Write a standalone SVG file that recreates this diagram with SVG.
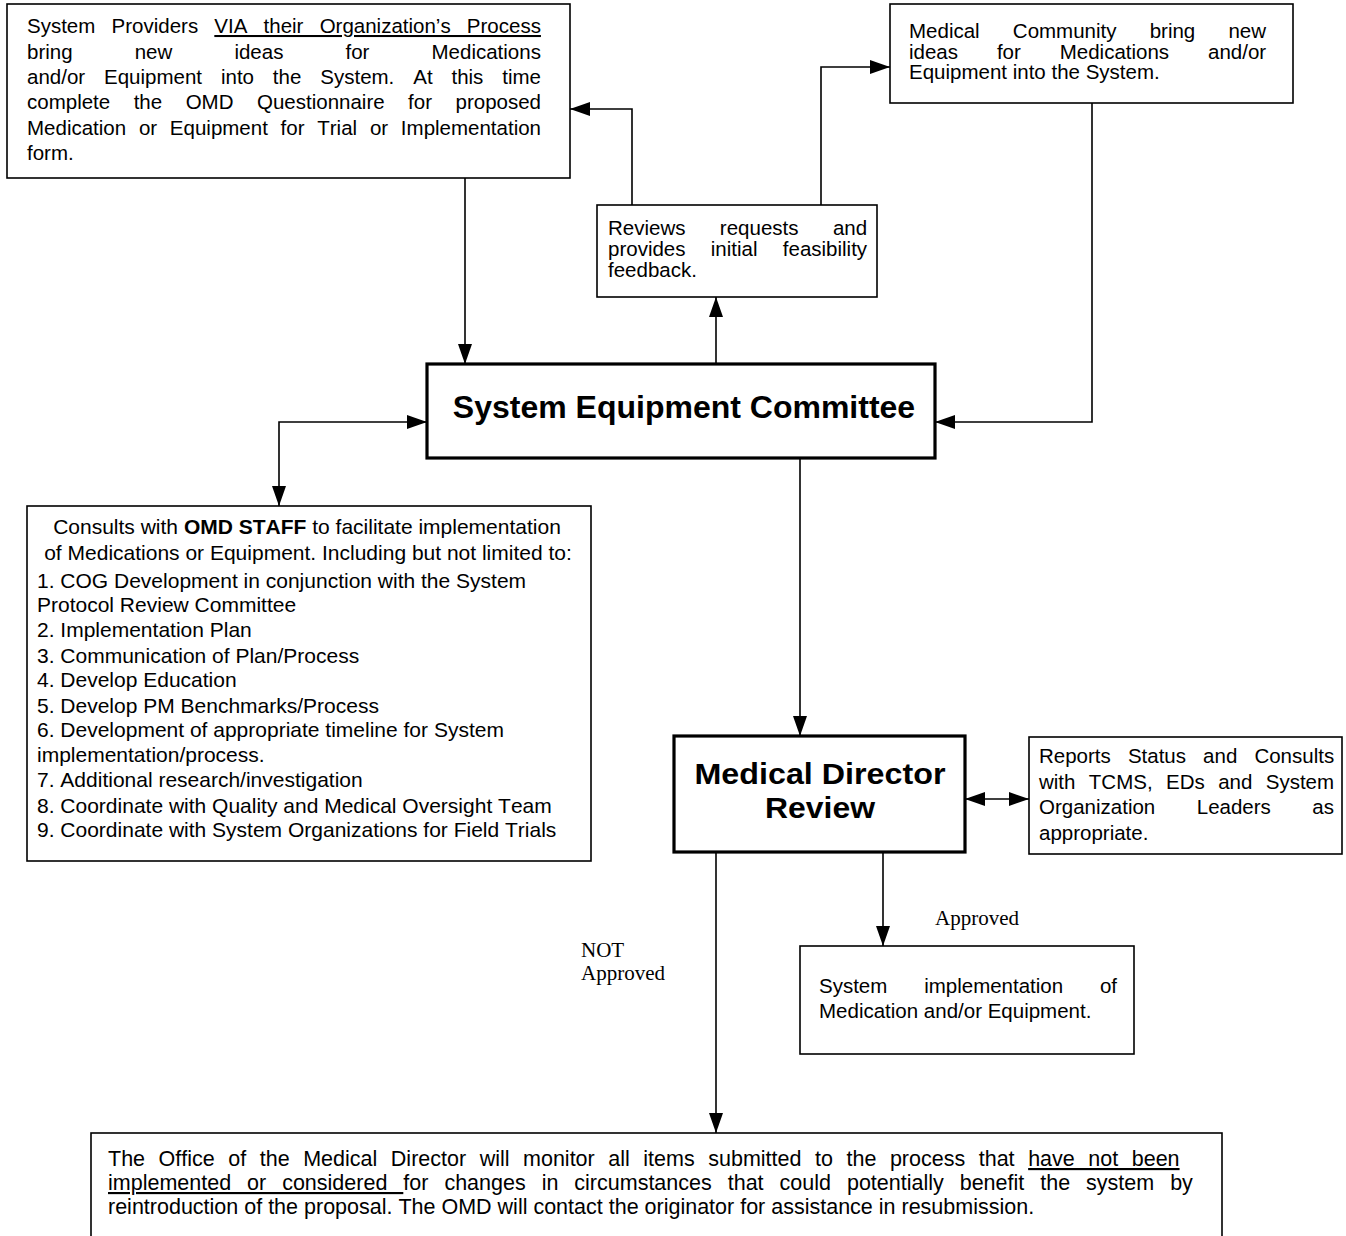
<svg xmlns="http://www.w3.org/2000/svg" width="1346" height="1236" viewBox="0 0 1346 1236">
<style>
.bx{fill:#fff;stroke:#000;stroke-width:1.6}
.bk{fill:#fff;stroke:#000;stroke-width:3.2}
.c{fill:none;stroke:#000;stroke-width:1.6}
text{fill:#000;font-kerning:none}
.t{font-family:"Liberation Sans",Arial,sans-serif;font-size:20.5px}
.o{font-family:"Liberation Sans",Arial,sans-serif;font-size:21px}
.w{font-family:"Liberation Sans",Arial,sans-serif;font-size:21.5px}
.h{font-family:"Liberation Sans",Arial,sans-serif;font-size:32px;font-weight:bold}
.m{font-family:"Liberation Sans",Arial,sans-serif;font-size:29px;font-weight:bold}
.tm{font-family:"Liberation Serif","Times New Roman",serif;font-size:21px}
.u{text-decoration:underline}
</style>
<defs>
<marker id="ah" markerUnits="userSpaceOnUse" markerWidth="20" markerHeight="14" refX="20" refY="7" orient="auto-start-reverse">
<path d="M0,0 L20,7 L0,14 z" fill="#000"/>
</marker>
</defs>
<rect width="1346" height="1236" fill="#fff"/>

<g id="connectors">
<path class="c" d="M465,178 V364" marker-end="url(#ah)"/>
<path class="c" d="M716,364 V297" marker-end="url(#ah)"/>
<path class="c" d="M632,205 V109 H570" marker-end="url(#ah)"/>
<path class="c" d="M821,205 V67 H890" marker-end="url(#ah)"/>
<path class="c" d="M1092,103 V422 H935" marker-end="url(#ah)"/>
<path class="c" d="M427,422 H279 V506" marker-start="url(#ah)" marker-end="url(#ah)"/>
<path class="c" d="M800,458 V736" marker-end="url(#ah)"/>
<path class="c" d="M965,799 H1029" marker-start="url(#ah)" marker-end="url(#ah)"/>
<path class="c" d="M883,852 V946" marker-end="url(#ah)"/>
<path class="c" d="M716,852 V1133" marker-end="url(#ah)"/>
</g>

<g id="providers">
<rect class="bx" x="7" y="4" width="563" height="174"/>
<text class="t" x="27" y="33" style="word-spacing:10.5px">System Providers <tspan class="u">VIA their Organization’s Process</tspan></text>
<text class="t" x="27" y="58.5" style="word-spacing:56.4px">bring new ideas for Medications</text>
<text class="t" x="27" y="84" style="word-spacing:13.2px">and/or Equipment into the System. At this time</text>
<text class="t" x="27" y="109" style="word-spacing:17.8px">complete the OMD Questionnaire for proposed</text>
<text class="t" x="27" y="134.5" style="word-spacing:7.05px">Medication or Equipment for Trial or Implementation</text>
<text class="t" x="27" y="160">form.</text>
</g>

<g id="reviews">
<rect class="bx" x="597" y="205" width="280" height="92"/>
<text class="t" x="608" y="235" style="word-spacing:28.7px">Reviews requests and</text>
<text class="t" x="608" y="256" style="word-spacing:19.6px">provides initial feasibility</text>
<text class="t" x="608" y="277">feedback.</text>
</g>

<g id="community">
<rect class="bx" x="890" y="4" width="403" height="99"/>
<text class="t" x="909" y="38" style="word-spacing:27.5px">Medical Community bring new</text>
<text class="t" x="909" y="58.5" style="word-spacing:33.2px">ideas for Medications and/or</text>
<text class="t" x="909" y="79">Equipment into the System.</text>
</g>

<g id="sec">
<rect class="bk" x="427" y="364" width="508" height="94"/>
<text class="h" x="684" y="418" text-anchor="middle">System Equipment Committee</text>
</g>

<g id="omd-staff">
<rect class="bx" x="27" y="506" width="564" height="355"/>
<text class="o" x="307" y="534" text-anchor="middle">Consults with <tspan font-weight="bold">OMD STAFF</tspan> to facilitate implementation</text>
<text class="o" x="308" y="560" text-anchor="middle">of Medications or Equipment. Including but not limited to:</text>
<text class="o" x="37" y="588">1. COG Development in conjunction with the System</text>
<text class="o" x="37" y="612">Protocol Review Committee</text>
<text class="o" x="37" y="637">2. Implementation Plan</text>
<text class="o" x="37" y="663">3. Communication of Plan/Process</text>
<text class="o" x="37" y="687">4. Develop Education</text>
<text class="o" x="37" y="713">5. Develop PM Benchmarks/Process</text>
<text class="o" x="37" y="737">6. Development of appropriate timeline for System</text>
<text class="o" x="37" y="762">implementation/process.</text>
<text class="o" x="37" y="787">7. Additional research/investigation</text>
<text class="o" x="37" y="813">8. Coordinate with Quality and Medical Oversight Team</text>
<text class="o" x="37" y="837">9. Coordinate with System Organizations for Field Trials</text>
</g>

<g id="mdr">
<rect class="bk" x="674" y="736" width="291" height="116"/>
<text class="m" x="694.5" y="784" textLength="251" lengthAdjust="spacingAndGlyphs">Medical Director</text>
<text class="m" x="765" y="818" textLength="110" lengthAdjust="spacingAndGlyphs">Review</text>
</g>

<g id="reports">
<rect class="bx" x="1029" y="737" width="313" height="117"/>
<text class="t" x="1039" y="763" style="word-spacing:11.4px">Reports Status and Consults</text>
<text class="t" x="1039" y="788.5" style="word-spacing:7.7px">with TCMS, EDs and System</text>
<text class="t" x="1039" y="814" style="word-spacing:35.8px">Organization Leaders as</text>
<text class="t" x="1039" y="839.5">appropriate.</text>
</g>

<g id="implementation">
<rect class="bx" x="800" y="946" width="334" height="108"/>
<text class="t" x="819" y="993" style="word-spacing:31.1px">System implementation of</text>
<text class="t" x="819" y="1018">Medication and/or Equipment.</text>
</g>

<g id="labels">
<text class="tm" x="935" y="925">Approved</text>
<text class="tm" x="581" y="957">NOT</text>
<text class="tm" x="581" y="980">Approved</text>
</g>

<g id="monitor">
<rect class="bx" x="91" y="1133" width="1131" height="120"/>
<text class="w" x="108" y="1166" style="word-spacing:7.57px">The Office of the Medical Director will monitor all items submitted to the process that <tspan class="u">have not been</tspan></text>
<text class="w" x="108" y="1190" style="word-spacing:10px"><tspan class="u">implemented or considered </tspan>for changes in circumstances that could potentially benefit the system by</text>
<text class="w" x="108" y="1214">reintroduction of the proposal. The OMD will contact the originator for assistance in resubmission.</text>
</g>
</svg>
